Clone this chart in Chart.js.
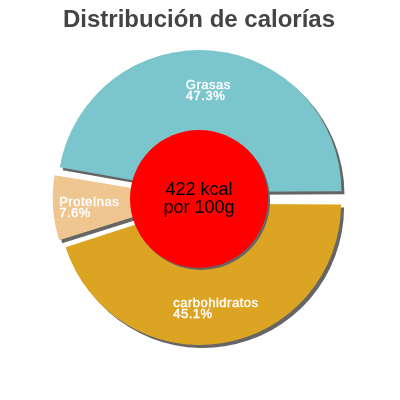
<!DOCTYPE html>
<html>
<head>
<meta charset="utf-8">
<script src="https://cdn.jsdelivr.net/npm/chart.js@4.4.1/dist/chart.umd.min.js"></script>
<style>
    html, body { margin: 0; padding: 0; background: #fff; }
    #wrap { width: 400px; height: 400px; position: relative; }
</style>
</head>
<body>
<div id="wrap"><canvas id="caloriesChart"></canvas></div>
<script>
// drawn clockwise starting at 3 o'clock
const categories = ['carbohidratos', 'Proteínas', 'Grasas'];
const percentages = [45.1, 7.6, 47.3];
const sliceColors = ['#dca423', '#efc590', '#7bc5cd'];
const centerLines = ['422 kcal', 'por 100g'];
const chartTitle = 'Distribución de calorías';

document.addEventListener('DOMContentLoaded', function () {
    initCaloriesChart();
});

function initCaloriesChart() {
    const canvas = document.getElementById('caloriesChart');
    if (!canvas || typeof Chart === 'undefined') return;

    const shadowPlugin = {
        id: 'sliceShadow',
        beforeDatasetsDraw(chart) {
            const ctx = chart.ctx;
            ctx.save();
            ctx.shadowColor = '#666';
            ctx.shadowBlur = 0;
            ctx.shadowOffsetX = 3;
            ctx.shadowOffsetY = 3;
        },
        afterDatasetsDraw(chart) {
            chart.ctx.restore();
        }
    };

    const centerPlugin = {
        id: 'centerCircle',
        afterDatasetsDraw(chart) {
            const ctx = chart.ctx;
            const arcs = chart.getDatasetMeta(0).data;
            if (!arcs.length) return;
            const cx = arcs[0].x;
            const cy = arcs[0].y;

            // red disc with the same hard shadow
            ctx.save();
            ctx.shadowColor = '#666';
            ctx.shadowOffsetX = 2;
            ctx.shadowOffsetY = 2;
            ctx.beginPath();
            ctx.arc(cx, cy + 1, 69, 0, Math.PI * 2);
            ctx.fillStyle = '#ff0000';
            ctx.fill();
            ctx.restore();

            ctx.save();
            ctx.fillStyle = '#000';
            ctx.font = '18px "Liberation Sans", Arial, sans-serif';
            ctx.textAlign = 'center';
            ctx.textBaseline = 'alphabetic';
            ctx.fillText(centerLines[0], cx, cy - 3);
            ctx.fillText(centerLines[1], cx, cy + 15);
            ctx.restore();

            // slice labels
            ctx.save();
            ctx.fillStyle = '#fff';
            ctx.strokeStyle = '#fff';
            ctx.lineWidth = 0.4;
            ctx.font = '13px "Liberation Sans", Arial, sans-serif';
            ctx.letterSpacing = '0.5px';
            ctx.textAlign = 'left';
            ctx.textBaseline = 'alphabetic';
            arcs.forEach((arc, i) => {
                const mid = (arc.startAngle + arc.endAngle) / 2;
                const lx = cx + Math.cos(mid) * 110;
                const ly = cy + 1 + Math.sin(mid) * 110;
                const lines = [categories[i], percentages[i].toFixed(1) + '%'];
                const w = Math.max(...lines.map(t => ctx.measureText(t).width));
                const left = lx - w / 2;
                lines.forEach((t, k) => {
                    const y = ly - 0.5 + k * 11;
                    ctx.fillText(t, left, y);
                    ctx.strokeText(t, left, y);
                });
            });
            ctx.restore();
        }
    };

    new Chart(canvas.getContext('2d'), {
        type: 'pie',
        data: {
            labels: categories,
            datasets: [{
                data: percentages,
                backgroundColor: sliceColors,
                borderWidth: 0,
                offset: 24,
                hoverOffset: 0
            }]
        },
        options: {
            responsive: true,
            maintainAspectRatio: false,
            animation: false,
            rotation: 90,
            radius: 137,
            events: [],
            layout: {
                padding: { left: 0, right: 2, top: 0, bottom: 44 }
            },
            plugins: {
                legend: { display: false },
                tooltip: { enabled: false },
                title: {
                    display: true,
                    text: chartTitle,
                    color: '#444',
                    font: { size: 24, weight: 'bold', family: '"Liberation Sans", Arial, sans-serif' },
                    padding: { top: 6, bottom: 5 }
                }
            }
        },
        plugins: [shadowPlugin, centerPlugin]
    });
}
</script>
</body>
</html>
